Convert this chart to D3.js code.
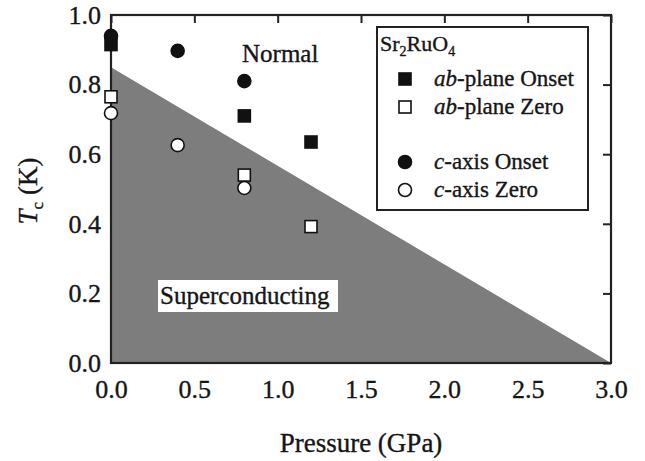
<!DOCTYPE html>
<html><head><meta charset="utf-8">
<script src="https://cdn.jsdelivr.net/npm/d3@7"></script>
<style>body{margin:0;background:#fff}svg{display:block}</style>
</head><body>
<svg id="c" width="645" height="461" font-family="'Liberation Serif', 'Times New Roman', serif"></svg>
<script>
// Data
const xTicks = [0, 0.5, 1.0, 1.5, 2.0, 2.5, 3.0];
const yTicks = [0, 0.2, 0.4, 0.6, 0.8, 1.0];
const scBoundaryP = [0, 3.0];
const scBoundaryT = [0.85, 0];
const abOnsetP = [0, 0.8, 1.2];
const abOnsetT = [0.915, 0.71, 0.635];
const abZeroP = [0, 0.8, 1.2];
const abZeroT = [0.765, 0.54, 0.392];
const cOnsetP = [0, 0.4, 0.8];
const cOnsetT = [0.94, 0.897, 0.81];
const cZeroP = [0, 0.4, 0.8];
const cZeroT = [0.718, 0.626, 0.503];

const FONT = "'Liberation Serif', 'Times New Roman', serif";
const svg = d3.select("#c");
const L = 111, R = 611, T = 15, B = 363;
const x = d3.scaleLinear().domain([0, 3]).range([L, R]);
const y = d3.scaleLinear().domain([0, 1]).range([B, T]);

// shaded superconducting region
const poly = [[scBoundaryP[0], 0], [scBoundaryP[0], scBoundaryT[0]], [scBoundaryP[1], scBoundaryT[1]]];
svg.append("path")
  .attr("d", d3.line().x(d => x(d[0])).y(d => y(d[1]))(poly) + "Z")
  .attr("fill", "#7d7d7d");

// axes
const fmt = d3.format(".1f");
const gB = svg.append("g").attr("transform", `translate(0,${B})`)
  .call(d3.axisBottom(x).tickValues(xTicks).tickFormat(fmt).tickSize(0).tickPadding(17));
const gL = svg.append("g").attr("transform", `translate(${L},0)`)
  .call(d3.axisLeft(y).tickValues(yTicks).tickFormat(fmt).tickSize(0).tickPadding(10));
const gT = svg.append("g").attr("transform", `translate(0,${T})`)
  .call(d3.axisBottom(x).tickValues(xTicks).tickFormat("").tickSize(8));
const gR = svg.append("g").attr("transform", `translate(${R},0)`)
  .call(d3.axisLeft(y).tickValues(yTicks).tickFormat("").tickSize(8));
[gB, gL, gT, gR].forEach(g => {
  g.attr("font-family", FONT);
  g.selectAll(".domain").remove();
  g.selectAll("line").attr("stroke", "#222").attr("stroke-width", 2);
  g.selectAll("text").attr("font-size", 26).attr("fill", "#222");
});
svg.append("rect").attr("x", L).attr("y", T).attr("width", R - L).attr("height", B - T)
  .attr("fill", "none").attr("stroke", "#222").attr("stroke-width", 2.2);

// labels
svg.append("text").attr("x", (L + R) / 2).attr("y", 452).attr("text-anchor", "middle")
  .attr("font-size", 27).text("Pressure (GPa)");
const yl = svg.append("text").attr("transform", `translate(37,191) rotate(-90)`).attr("text-anchor", "middle")
  .attr("font-size", 27);
yl.append("tspan").attr("font-style", "italic").text("T");
yl.append("tspan").attr("font-size", 17).attr("dy", 6).text("c");
yl.append("tspan").attr("dy", -6).text(" (K)");

svg.append("text").attr("x", 242).attr("y", 62).attr("font-size", 25).text("Normal");
svg.append("rect").attr("x", 158).attr("y", 280).attr("width", 180).attr("height", 32).attr("fill", "#fff");
svg.append("text").attr("x", 160).attr("y", 304).attr("font-size", 25).text("Superconducting");

// markers
const sq = 12, rad = 6.5;
function squares(P, Tv, fill) {
  svg.append("g").selectAll("rect").data(P.map((p, i) => [p, Tv[i]])).join("rect")
    .attr("x", d => x(d[0]) - sq / 2).attr("y", d => y(d[1]) - sq / 2)
    .attr("width", sq).attr("height", sq).attr("fill", fill).attr("stroke", "#111").attr("stroke-width", 1.6);
}
function circles(P, Tv, fill) {
  svg.append("g").selectAll("circle").data(P.map((p, i) => [p, Tv[i]])).join("circle")
    .attr("cx", d => x(d[0])).attr("cy", d => y(d[1])).attr("r", rad)
    .attr("fill", fill).attr("stroke", "#111").attr("stroke-width", 1.6);
}
squares(abOnsetP, abOnsetT, "#111");
circles(cOnsetP, cOnsetT, "#111");
squares(abZeroP, abZeroT, "#fff");
circles(cZeroP, cZeroT, "#fff");

// legend
const lg = svg.append("g");
lg.append("rect").attr("x", 377).attr("y", 27).attr("width", 211).attr("height", 183)
  .attr("fill", "#fff").attr("stroke", "#222").attr("stroke-width", 2);
const tt = lg.append("text").attr("x", 380).attr("y", 51).attr("font-size", 22);
tt.append("tspan").text("Sr");
tt.append("tspan").attr("font-size", 14).attr("dy", 5).text("2");
tt.append("tspan").attr("dy", -5).text("RuO");
tt.append("tspan").attr("font-size", 14).attr("dy", 5).text("4");
const items = [
  {it: "ab", rest: "-plane Onset", shape: "sq", fill: "#111", yy: 79},
  {it: "ab", rest: "-plane Zero", shape: "sq", fill: "#fff", yy: 107},
  {it: "c", rest: "-axis Onset", shape: "ci", fill: "#111", yy: 162},
  {it: "c", rest: "-axis Zero", shape: "ci", fill: "#fff", yy: 190}
];
items.forEach(d => {
  if (d.shape === "sq") lg.append("rect").attr("x", 405 - sq / 2).attr("y", d.yy - sq / 2).attr("width", sq).attr("height", sq)
    .attr("fill", d.fill).attr("stroke", "#111").attr("stroke-width", 1.6);
  else lg.append("circle").attr("cx", 405).attr("cy", d.yy).attr("r", rad)
    .attr("fill", d.fill).attr("stroke", "#111").attr("stroke-width", 1.6);
  const t = lg.append("text").attr("x", 434).attr("y", d.yy + 7).attr("font-size", 23);
  t.append("tspan").attr("font-style", "italic").text(d.it);
  t.append("tspan").text(d.rest);
});
svg.selectAll("text").attr("font-family", FONT).attr("fill", "#161616")
  .attr("stroke", "#161616").attr("stroke-width", 0.35);
</script>
</body></html>
